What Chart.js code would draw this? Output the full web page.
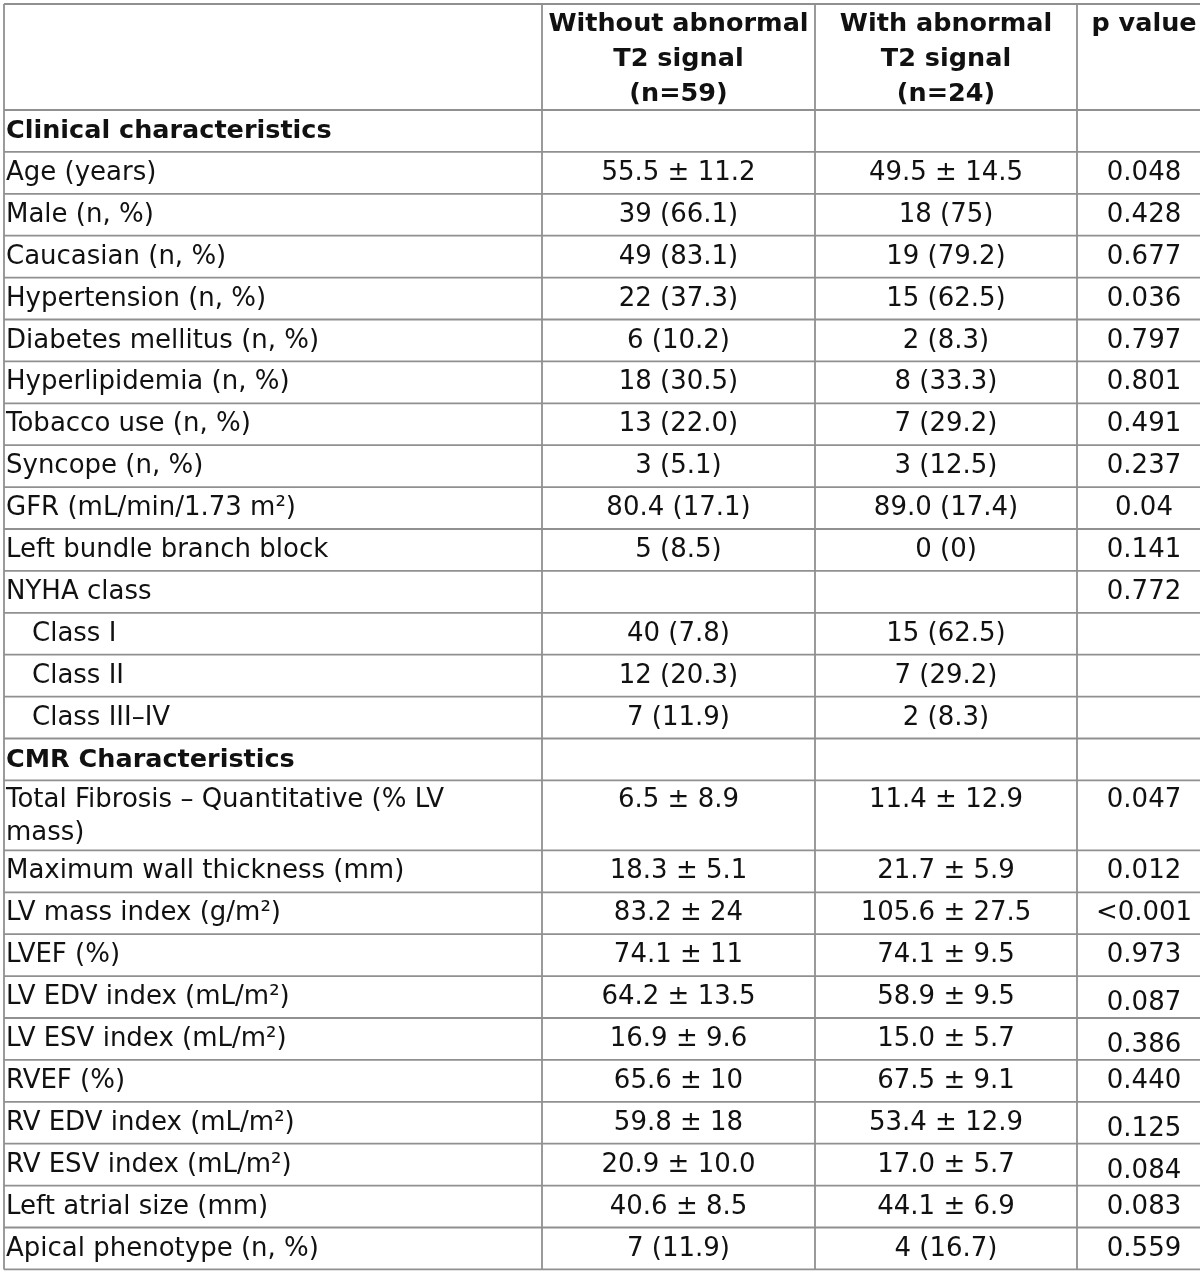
<!DOCTYPE html>
<html>
<head>
<meta charset="utf-8">
<script src="https://cdn.jsdelivr.net/npm/chart.js@4/dist/chart.umd.min.js"></script>
<style>
html,body{margin:0;padding:0;background:#fff;}
#wrap{width:1200px;height:1274px;}
</style>
</head>
<body>
<div id="wrap"><canvas id="c" width="1200" height="1274"></canvas></div>
<script>
// ---- table content ----
const columnHeaders = ["", "Without abnormal\nT2 signal\n(n=59)", "With abnormal\nT2 signal\n(n=24)", "p value"];
const rowLabels = [
  "Clinical characteristics","Age (years)","Male (n, %)","Caucasian (n, %)","Hypertension (n, %)",
  "Diabetes mellitus (n, %)","Hyperlipidemia (n, %)","Tobacco use (n, %)","Syncope (n, %)",
  "GFR (mL/min/1.73 m²)","Left bundle branch block","NYHA class","Class I","Class II","Class III–IV",
  "CMR Characteristics","Total Fibrosis – Quantitative (% LV\nmass)","Maximum wall thickness (mm)",
  "LV mass index (g/m²)","LVEF (%)","LV EDV index (mL/m²)","LV ESV index (mL/m²)","RVEF (%)",
  "RV EDV index (mL/m²)","RV ESV index (mL/m²)","Left atrial size (mm)","Apical phenotype (n, %)"
];
const withoutT2 = [
  "","55.5 ± 11.2","39 (66.1)","49 (83.1)","22 (37.3)","6 (10.2)","18 (30.5)","13 (22.0)","3 (5.1)",
  "80.4 (17.1)","5 (8.5)","","40 (7.8)","12 (20.3)","7 (11.9)","","6.5 ± 8.9","18.3 ± 5.1",
  "83.2 ± 24","74.1 ± 11","64.2 ± 13.5","16.9 ± 9.6","65.6 ± 10","59.8 ± 18","20.9 ± 10.0","40.6 ± 8.5","7 (11.9)"
];
const withT2 = [
  "","49.5 ± 14.5","18 (75)","19 (79.2)","15 (62.5)","2 (8.3)","8 (33.3)","7 (29.2)","3 (12.5)",
  "89.0 (17.4)","0 (0)","","15 (62.5)","7 (29.2)","2 (8.3)","","11.4 ± 12.9","21.7 ± 5.9",
  "105.6 ± 27.5","74.1 ± 9.5","58.9 ± 9.5","15.0 ± 5.7","67.5 ± 9.1","53.4 ± 12.9","17.0 ± 5.7","44.1 ± 6.9","4 (16.7)"
];
const pValues = [
  "","0.048","0.428","0.677","0.036","0.797","0.801","0.491","0.237","0.04","0.141","0.772","","","",
  "","0.047","0.012","<0.001","0.973","0.087","0.386","0.440","0.125","0.084","0.083","0.559"
];
const sectionRows = ["Clinical characteristics","CMR Characteristics"];
const indentedRows = ["Class I","Class II","Class III–IV"];
const loweredPRows = ["LV EDV index (mL/m²)","LV ESV index (mL/m²)","RV EDV index (mL/m²)","RV ESV index (mL/m²)"];

// ---- layout / style (kept apart from data) ----
const W = 1200, H = 1274;
const colEdges = [4, 542, 815, 1077, 1211];
const tableTop = 4, headerH = 106, rowH = 41.9, tallRowH = 70;
const gridColor = "#909090";
const textColor = "#111111";
const FONT = '"DejaVu Sans", "Noto Sans", sans-serif';

const tablePlugin = {
  id: "tablePlugin",
  afterDraw(chart) {
    const ctx = chart.ctx;
    const xs = chart.scales.x, ys = chart.scales.y;
    const X = v => xs.getPixelForValue(v);
    const Y = v => ys.getPixelForValue(v);
    const bounds = [tableTop, tableTop + headerH];
    rowLabels.forEach(lbl => {
      const h = lbl.includes("\n") ? tallRowH : rowH;
      bounds.push(bounds[bounds.length - 1] + h);
    });
    ctx.save();
    ctx.fillStyle = "#fff";
    ctx.fillRect(0, 0, chart.width, chart.height);
    ctx.strokeStyle = gridColor;
    ctx.lineWidth = 1.8;
    bounds.forEach(b => {
      ctx.beginPath(); ctx.moveTo(X(colEdges[0]), Y(b)); ctx.lineTo(X(colEdges[4]), Y(b)); ctx.stroke();
    });
    colEdges.forEach(c => {
      ctx.beginPath(); ctx.moveTo(X(c), Y(bounds[0])); ctx.lineTo(X(c), Y(bounds[bounds.length - 1])); ctx.stroke();
    });
    ctx.fillStyle = textColor;
    ctx.textBaseline = "alphabetic";
    ctx.font = "bold 25.5px " + FONT;
    ctx.textAlign = "center";
    columnHeaders.forEach((t, i) => {
      if (!t) return;
      const cx = (colEdges[i] + colEdges[i + 1]) / 2;
      t.split("\n").forEach((line, k) => {
        ctx.fillText(line, X(cx), Y(bounds[0] + 27 + k * 35));
      });
    });
    rowLabels.forEach((lbl, r) => {
      const top = bounds[r + 1];
      const tall = lbl.includes("\n");
      const base = tall ? top + 27 : top + 28;
      const isSection = sectionRows.includes(lbl);
      ctx.font = (isSection ? "bold 25.5px " : "26px ") + FONT;
      ctx.textAlign = "left";
      const lx = colEdges[0] + 2 + (indentedRows.includes(lbl) ? 26 : 0);
      lbl.split("\n").forEach((line, k) => {
        ctx.fillText(line, X(lx), Y(base + k * 33));
      });
      ctx.font = "26px " + FONT;
      ctx.textAlign = "center";
      const vals = [withoutT2[r], withT2[r], pValues[r]];
      vals.forEach((v, i) => {
        if (!v) return;
        const cx = (colEdges[i + 1] + colEdges[i + 2]) / 2;
        const off = (i === 2 && loweredPRows.includes(lbl)) ? 6 : 0;
        ctx.fillText(v, X(cx), Y(base + off));
      });
    });
    ctx.restore();
  }
};

new Chart(document.getElementById("c"), {
  type: "scatter",
  data: { datasets: [{ data: [], pointRadius: 0 }] },
  options: {
    responsive: false,
    animation: false,
    devicePixelRatio: 1,
    layout: { padding: 0 },
    plugins: { legend: { display: false }, tooltip: { enabled: false } },
    scales: {
      x: { type: "linear", min: 0, max: W, display: false },
      y: { type: "linear", min: 0, max: H, reverse: true, display: false }
    }
  },
  plugins: [tablePlugin]
});
</script>
</body>
</html>
